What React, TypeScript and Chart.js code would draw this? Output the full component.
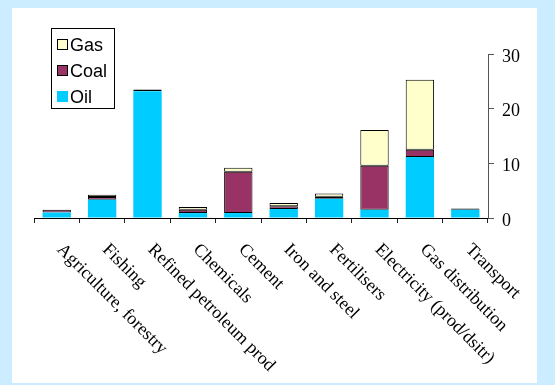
import React, { useEffect, useRef } from "react";
import { Chart, registerables } from "chart.js";

Chart.register(...registerables);

const categories = [
  "Agriculture, forestry",
  "Fishing",
  "Refined petroleum prod",
  "Chemicals",
  "Cement",
  "Iron and steel",
  "Fertilisers",
  "Electricity (prod/dsitr)",
  "Gas distribution",
  "Transport",
];

const oilValues = [1.0, 3.35, 23.2, 0.9, 0.9, 1.65, 3.5, 1.5, 11.15, 1.5];
const coalValues = [0.5, 0.5, 0.3, 0.6, 7.55, 0.48, 0.4, 8.05, 1.35, 0.25];
const gasValues = [0, 0.4, 0, 0.5, 0.75, 0.62, 0.6, 6.55, 12.8, 0];

const yTicks = [0, 10, 20, 30];

const OIL = "#00CCFF";
const COAL = "#993366";
const GAS = "#FFFFCC";
const FRAME = "rgb(204,236,255)";

// Page frame: light blue border around a white panel
const framePlugin = {
  id: "frame",
  beforeDraw(chart: any) {
    const { ctx, width, height } = chart;
    ctx.save();
    ctx.fillStyle = FRAME;
    ctx.fillRect(0, 0, width, height);
    ctx.fillStyle = "#ffffff";
    ctx.fillRect(12, 8, 525, 375);
    ctx.restore();
  },
};

// Boxed legend inside the plot, listed top-down from the top of the stack
const boxLegendPlugin = {
  id: "boxLegend",
  afterDraw(chart: any) {
    const { ctx } = chart;
    const items = [...chart.data.datasets].reverse();
    ctx.save();
    ctx.fillStyle = "#ffffff";
    ctx.fillRect(51.5, 28.5, 63, 80);
    ctx.strokeStyle = "#000";
    ctx.lineWidth = 1;
    ctx.strokeRect(51.5, 28.5, 63, 80);
    ctx.font = '18px "Liberation Sans", Arial, sans-serif';
    ctx.textAlign = "left";
    ctx.textBaseline = "alphabetic";
    items.forEach((ds: any, i: number) => {
      const base = 51 + i * 26;
      ctx.fillStyle = ds.backgroundColor;
      ctx.fillRect(57, base - 12, 11, 11);
      if (ds.borderWidth) {
        ctx.strokeStyle = "#000";
        ctx.strokeRect(57.5, base - 11.5, 10, 10);
      }
      ctx.fillStyle = "#000";
      ctx.fillText(ds.label, 70, base);
    });
    ctx.restore();
  },
};

// Category names slanting down to the right under each bar
const slantLabelsPlugin = {
  id: "slantLabels",
  afterDraw(chart: any) {
    const { ctx } = chart;
    const xs = chart.scales.x;
    const bottom = chart.chartArea.bottom;
    ctx.save();
    ctx.font = '18px "Liberation Serif", "Times New Roman", serif';
    ctx.fillStyle = "#000";
    ctx.textAlign = "left";
    ctx.textBaseline = "middle";
    chart.data.labels.forEach((label: string, i: number) => {
      const x = xs.getPixelForValue(i);
      ctx.save();
      ctx.translate(x + 3, bottom + 29);
      ctx.rotate(Math.PI / 4);
      ctx.fillText(label, 0, 0);
      ctx.restore();
    });
    ctx.restore();
  },
};

export default function App() {
  const canvasRef = useRef<HTMLCanvasElement | null>(null);

  useEffect(() => {
    const canvas = canvasRef.current;
    if (!canvas) return;
    const chart = new Chart(canvas, {
      type: "bar",
      data: {
        labels: categories,
        datasets: [
          {
            label: "Oil",
            data: oilValues,
            backgroundColor: OIL,
            borderWidth: 0,
          },
          {
            label: "Coal",
            data: coalValues,
            backgroundColor: COAL,
            borderColor: "#000",
            borderWidth: 1,
            borderSkipped: false,
          },
          {
            label: "Gas",
            data: gasValues,
            backgroundColor: GAS,
            borderColor: "#000",
            borderWidth: 1,
            borderSkipped: false,
          },
        ],
      },
      options: {
        responsive: false,
        animation: false,
        devicePixelRatio: 1,
        layout: { padding: { left: 34, top: 54, right: 0, bottom: 0 } },
        datasets: {
          bar: { barPercentage: 0.625, categoryPercentage: 1 },
        },
        plugins: {
          legend: { display: false },
          tooltip: { enabled: false },
        },
        scales: {
          x: {
            stacked: true,
            offset: true,
            grid: {
              display: true,
              offset: true,
              drawOnChartArea: false,
              drawTicks: true,
              tickLength: 5,
              color: "#222",
            },
            border: { display: true, color: "#000", width: 1 },
            ticks: { display: false },
            afterFit: (scale: any) => {
              scale.height = 385 - 218;
            },
          },
          y: {
            stacked: true,
            position: "right",
            min: 0,
            max: 30,
            afterBuildTicks: (scale: any) => {
              scale.ticks = yTicks.map((v) => ({ value: v }));
            },
            grid: {
              display: true,
              drawOnChartArea: false,
              drawTicks: true,
              tickLength: 6,
              color: "#555",
            },
            border: { display: true, color: "#555", width: 1 },
            ticks: {
              color: "#000",
              padding: 8,
              labelOffset: 3,
              font: { family: '"Liberation Serif", "Times New Roman", serif', size: 18 },
            },
            afterFit: (scale: any) => {
              scale.width = 555 - 488;
            },
          },
        },
      },
      plugins: [framePlugin, boxLegendPlugin, slantLabelsPlugin],
    });
    return () => chart.destroy();
  }, []);

  return (
    <div style={{ position: "fixed", left: 0, top: 0, width: 555, height: 385 }}>
      <canvas ref={canvasRef} width={555} height={385} style={{ display: "block" }} />
    </div>
  );
}
